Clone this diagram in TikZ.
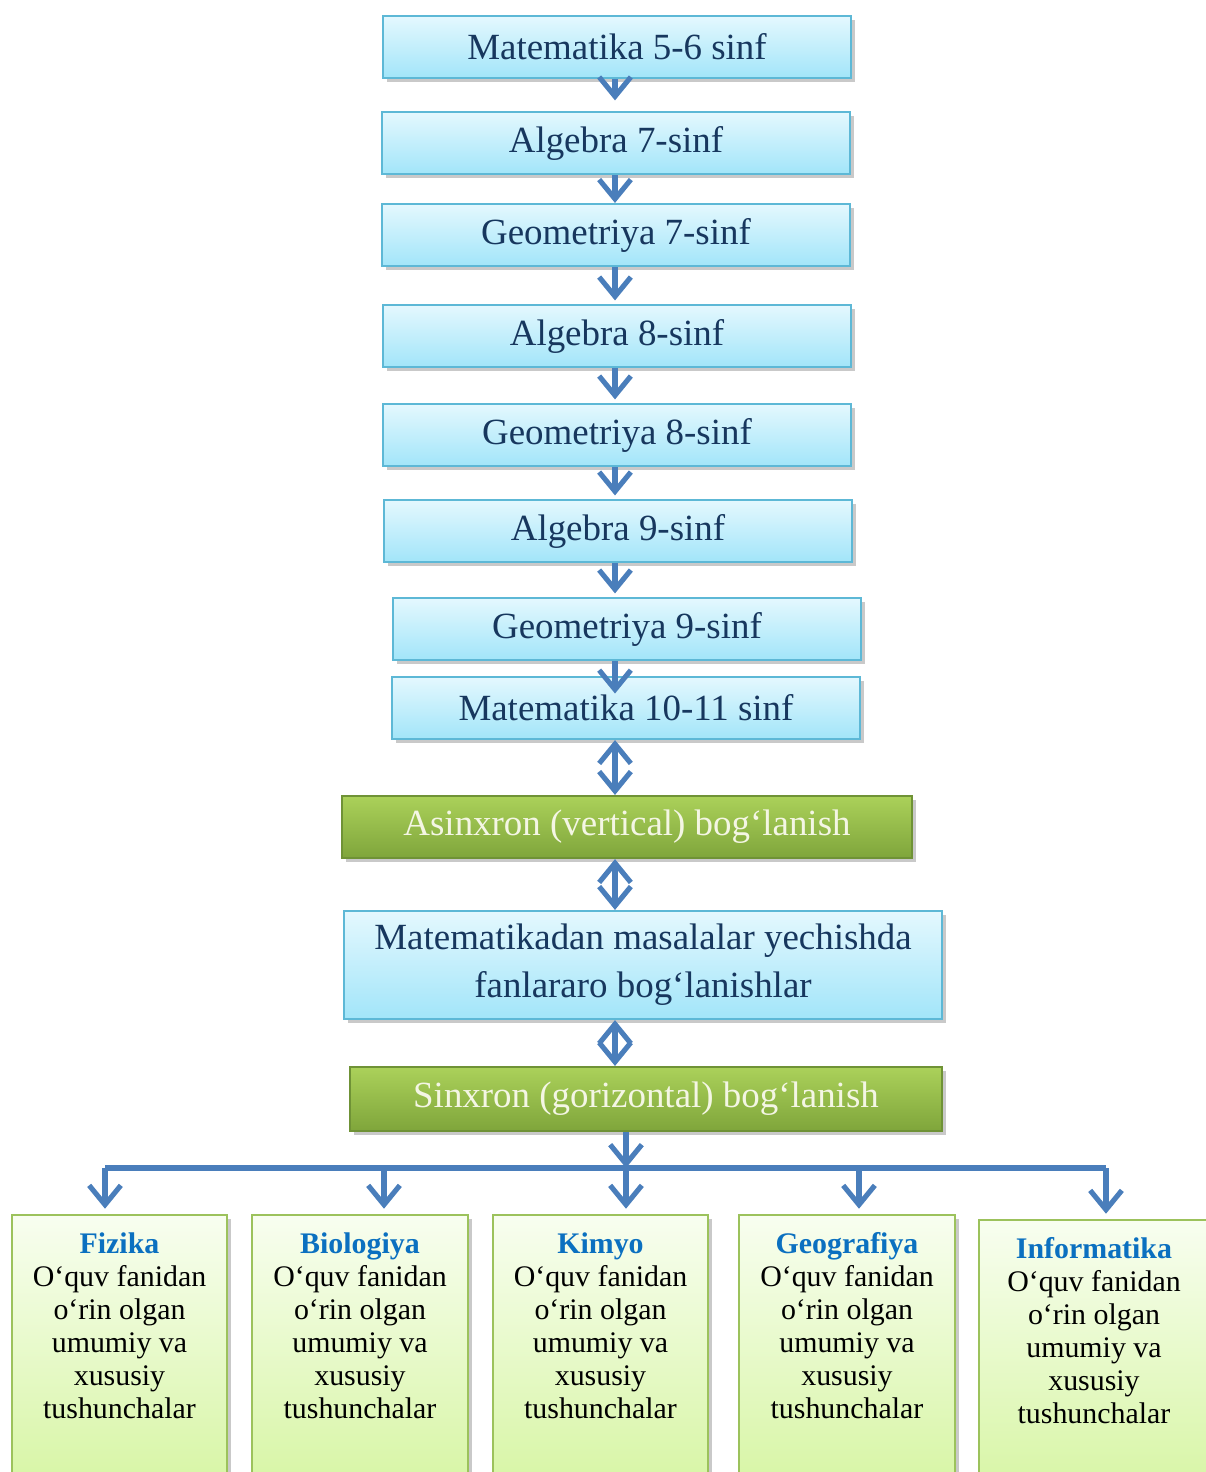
\documentclass[tikz,border=0pt]{standalone}
\usepackage{fontspec}
\setmainfont{Liberation Serif}
\usetikzlibrary{arrows.meta, shadows}
\definecolor{skyTop}{HTML}{E4F8FE}
\definecolor{skyBot}{HTML}{A2E5F9}
\definecolor{skyLine}{HTML}{5DB8D6}
\definecolor{navy}{HTML}{17375E}
\definecolor{oliveTop}{HTML}{ABD15A}
\definecolor{oliveBot}{HTML}{7FA53B}
\definecolor{oliveLine}{HTML}{6F9236}
\definecolor{oliveText}{HTML}{F4F6E4}
\definecolor{leafTop}{HTML}{F8FEF0}
\definecolor{leafBot}{HTML}{D6F5A2}
\definecolor{leafLine}{HTML}{9CC25C}
\definecolor{subjBlue}{HTML}{0B70C0}
\definecolor{arrowBlue}{HTML}{4A7EBB}
\tikzset{
  card/.style    ={draw=skyLine, line width=0.6pt, top color=skyTop,
                   bottom color=skyBot, text=navy, align=center, inner sep=0pt,
                   font=\fontsize{10.5}{13.7}\selectfont,
                   drop shadow={shadow xshift=1.1pt, shadow yshift=-1.1pt,
                                opacity=0.3, fill=black!70}},
  Lgrade/.style  ={card, minimum width=4.68cm, minimum height=0.62cm},
  Llink/.style   ={card, top color=oliveTop, bottom color=oliveBot,
                   draw=oliveLine, text=oliveText, minimum height=0.62cm},
  Lsubj/.style   ={card, top color=leafTop, bottom color=leafBot,
                   draw=leafLine, minimum width=2.15cm, minimum height=2.8cm,
                   anchor=north},
  subjtext/.style={font=\fontsize{8.5}{9.4}\selectfont, align=center,
                   anchor=north, text=black, inner sep=0pt},
  flow/.style    ={-{Straight Barb[length=5.5pt, width=9pt]}, arrowBlue,
                   line width=1.45pt},
  twoway/.style  ={{Straight Barb[length=5.5pt, width=9pt]}-{Straight Barb[length=5.5pt, width=9pt]},
                   arrowBlue, line width=1.45pt},
  bus/.style     ={-, arrowBlue, line width=1.45pt},
}

\begin{document}
\begin{tikzpicture}[x=0.01cm, y=-0.01cm]
\clip (0,0) rectangle (1206,1472);

% grades
\node[Lgrade] (m56)   at (617,  47) {Matematika 5-6 sinf};
\node[Lgrade] (alg7)  at (616, 143) {Algebra 7-sinf};
\node[Lgrade] (geo7)  at (616, 235) {Geometriya 7-sinf};
\node[Lgrade] (alg8)  at (617, 336) {Algebra 8-sinf};
\node[Lgrade] (geo8)  at (617, 435) {Geometriya 8-sinf};
\node[Lgrade] (alg9)  at (618, 531) {Algebra 9-sinf};
\node[Lgrade] (geo9)  at (627, 629) {Geometriya 9-sinf};
\node[Lgrade] (m1011) at (626, 708) {Matematika 10-11 sinf};

\coordinate (spine) at (615, 0);
\foreach \a/\b/\s in {m56/alg7/3pt, alg7/geo7/0pt, geo7/alg8/1pt, alg8/geo8/1pt,
                      geo8/alg9/1pt, alg9/geo9/1pt, geo9/m1011/-5pt} {
  \draw[flow, shorten >=\s] (spine |- \a.south) -- (spine |- \b.north);
}

% links
\node[Llink, minimum width=5.70cm] (asinx) at (627, 827) {Asinxron (vertical) bog‘lanish};
\node[card, minimum width=5.97cm, minimum height=1.08cm] (fan) at (643, 965)
  {Matematikadan masalalar yechishda\\fanlararo bog‘lanishlar};
\node[Llink, minimum width=5.92cm, minimum height=0.64cm] (sinx) at (646, 1099)
  {Sinxron (gorizontal) bog‘lanish};

\draw[twoway] (spine |- m1011.south) -- (spine |- asinx.north);
\draw[twoway] (spine |- asinx.south) -- (spine |- fan.north);
\draw[twoway] (spine |- fan.south)   -- (spine |- sinx.north);

% subjects
\foreach \n/\x/\y/\w/\lab in {fiz/119.5/1214/2.15cm/Fizika, bio/360/1214/2.16cm/Biologiya,
                              kim/600.5/1214/2.15cm/Kimyo, geo/847/1214/2.16cm/Geografiya,
                              inf/1094/1219/2.30cm/Informatika} {
  \node[Lsubj, minimum width=\w] (\n) at (\x, \y) {};
  \node[subjtext] (\n-t) at ([yshift=-5pt]\n.north)
    {\textbf{\color{subjBlue}\lab}\\O‘quv fanidan\\o‘rin olgan\\umumiy va\\xususiy\\tushunchalar};
}

% bus
\foreach \n/\x in {fiz/105, bio/384, kim/626, geo/859, inf/1106} {
  \coordinate (d-\n) at (\x, 1168);
}
\draw[bus] (d-fiz) -- (d-inf);
\draw[flow] (d-kim |- sinx.south) -- (d-kim);
\foreach \n in {fiz, bio, kim, geo, inf} {
  \draw[flow, shorten >=1.5pt] (d-\n) -- (d-\n |- \n.north);
}

\end{tikzpicture}
\end{document}
